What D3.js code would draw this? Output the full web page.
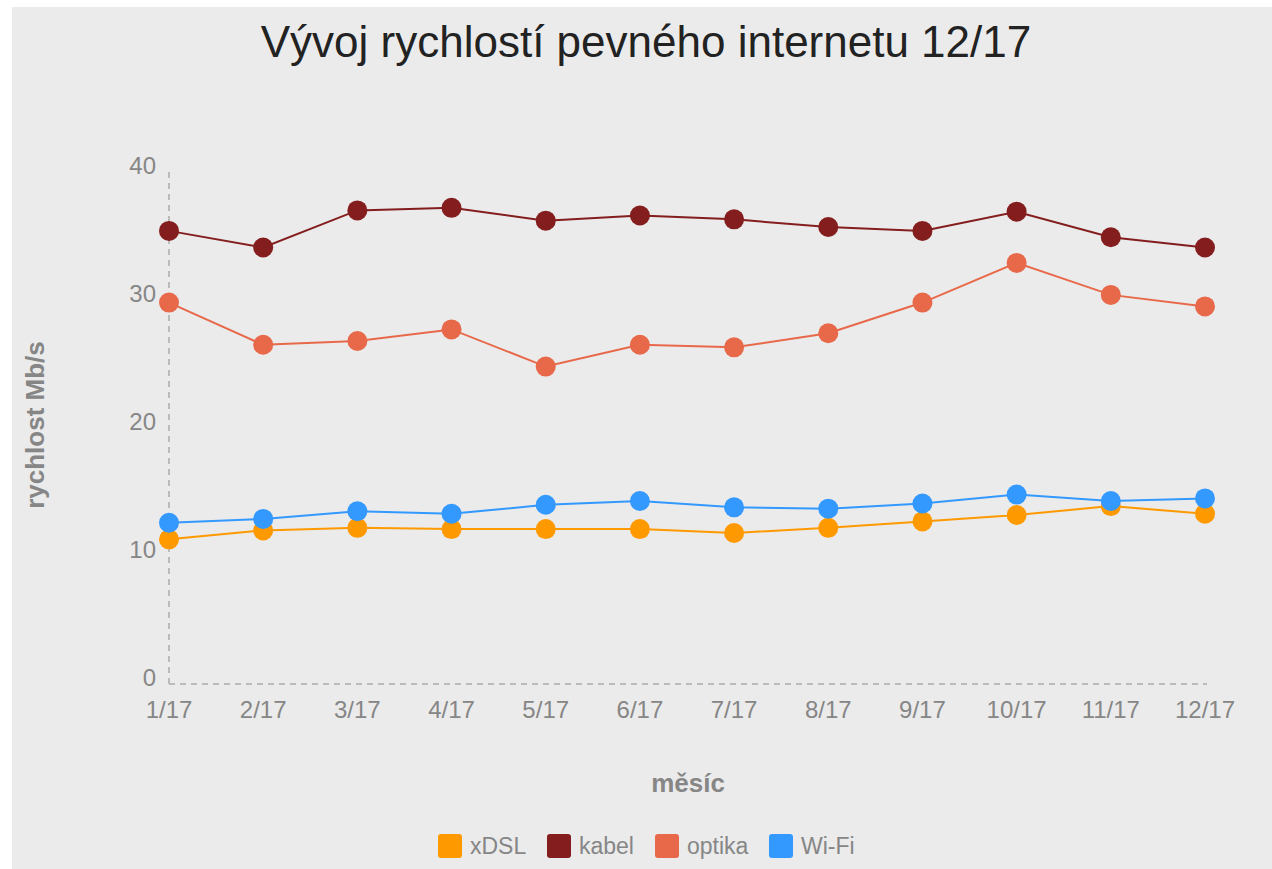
<!DOCTYPE html>
<html>
<head>
<meta charset="utf-8">
<script src="https://cdnjs.cloudflare.com/ajax/libs/d3/7.8.5/d3.min.js"></script>
<style>
  body { margin: 0; background: #fff; }
  svg { display: block; }
</style>
</head>
<body>
<svg id="chart"></svg>
<script>
// months on the x axis
const months = ['1/17', '2/17', '3/17', '4/17', '5/17', '6/17', '7/17', '8/17', '9/17', '10/17', '11/17', '12/17'];

// speeds in Mb/s
const xdsl   = [11.3, 12.0, 12.2, 12.1, 12.1, 12.1, 11.8, 12.2, 12.7, 13.2, 13.9, 13.3];
const kabel  = [35.4, 34.1, 37.0, 37.2, 36.2, 36.6, 36.3, 35.7, 35.4, 36.9, 34.9, 34.1];
const optika = [29.8, 26.5, 26.8, 27.7, 24.8, 26.5, 26.3, 27.4, 29.8, 32.9, 30.4, 29.5];
const wifi   = [12.6, 12.9, 13.5, 13.3, 14.0, 14.3, 13.8, 13.7, 14.1, 14.8, 14.3, 14.5];

const yTicks = [0, 10, 20, 30, 40];

const series = [
    { name: 'xDSL',   values: xdsl,   color: '#ff9900' },
    { name: 'kabel',  values: kabel,  color: '#841d1d' },
    { name: 'optika', values: optika, color: '#e8694a' },
    { name: 'Wi-Fi',  values: wifi,   color: '#3399ff' }
];
// draw order: lower lines on top like the original
const drawOrder = ['kabel', 'optika', 'xDSL', 'Wi-Fi'];

const W = 1272, H = 869;
const plotLeft = 169, plotRight = 1205, plotTop = 172, plotBottom = 684;
const font = '"Liberation Sans", Arial, sans-serif';

const svg = d3.select('#chart').attr('width', W).attr('height', H);

svg.append('rect')
    .attr('x', 12).attr('y', 7)
    .attr('width', W - 12).attr('height', H - 7)
    .attr('fill', '#ebebeb');

const x = d3.scalePoint().domain(months).range([plotLeft, plotRight]);
const y = d3.scaleLinear().domain([0, 40]).range([plotBottom, plotTop]);

// title
svg.append('text')
    .attr('x', 646).attr('y', 57)
    .attr('text-anchor', 'middle')
    .style('font-family', font)
    .style('font-size', '44px')
    .attr('fill', '#222')
    .text('Vývoj rychlostí pevného internetu 12/17');

// dashed axis lines
svg.append('line')
    .attr('x1', plotLeft).attr('x2', plotLeft)
    .attr('y1', y(40)).attr('y2', y(0))
    .attr('stroke', '#bbb').attr('stroke-width', 2)
    .attr('stroke-dasharray', '6,5');
svg.append('line')
    .attr('x1', plotLeft).attr('x2', plotRight + 2)
    .attr('y1', y(0)).attr('y2', y(0))
    .attr('stroke', '#bbb').attr('stroke-width', 2)
    .attr('stroke-dasharray', '6,5');

// y tick labels
svg.selectAll('.ytick')
    .data(yTicks)
    .enter().append('text')
    .attr('class', 'ytick')
    .attr('x', 156)
    .attr('y', d => y(d) + 2)
    .attr('text-anchor', 'end')
    .style('font-family', font)
    .style('font-size', '24px')
    .attr('fill', '#868686')
    .text(d => d);

// x tick labels
svg.selectAll('.xtick')
    .data(months)
    .enter().append('text')
    .attr('class', 'xtick')
    .attr('x', d => x(d))
    .attr('y', 718)
    .attr('text-anchor', 'middle')
    .style('font-family', font)
    .style('font-size', '24px')
    .attr('fill', '#868686')
    .text(d => d);

// axis titles
svg.append('text')
    .attr('transform', 'translate(44,425) rotate(-90)')
    .attr('text-anchor', 'middle')
    .style('font-family', font)
    .style('font-size', '26px')
    .style('font-weight', 'bold')
    .attr('fill', '#868686')
    .text('rychlost Mb/s');

svg.append('text')
    .attr('x', 688).attr('y', 792)
    .attr('text-anchor', 'middle')
    .style('font-family', font)
    .style('font-size', '26px')
    .style('font-weight', 'bold')
    .attr('fill', '#868686')
    .text('měsíc');

// lines and points
const line = d3.line()
    .x((d, i) => x(months[i]))
    .y(d => y(d));

drawOrder.forEach(name => {
    const s = series.find(d => d.name === name);
    const g = svg.append('g');
    g.append('path')
        .attr('d', line(s.values))
        .attr('fill', 'none')
        .attr('stroke', s.color)
        .attr('stroke-width', 2);
    g.selectAll('circle')
        .data(s.values)
        .enter().append('circle')
        .attr('cx', (d, i) => x(months[i]))
        .attr('cy', d => y(d))
        .attr('r', 10)
        .attr('fill', s.color);
});

// legend
const legendX = [438, 547, 655, 769];
const legend = svg.selectAll('.legend')
    .data(series)
    .enter().append('g')
    .attr('class', 'legend')
    .attr('transform', (d, i) => `translate(${legendX[i]},834)`);

legend.append('rect')
    .attr('width', 24).attr('height', 24)
    .attr('rx', 3)
    .attr('fill', d => d.color);

legend.append('text')
    .attr('x', 32).attr('y', 20)
    .style('font-family', font)
    .style('font-size', '23px')
    .attr('fill', '#868686')
    .text(d => d.name);
</script>
</body>
</html>
